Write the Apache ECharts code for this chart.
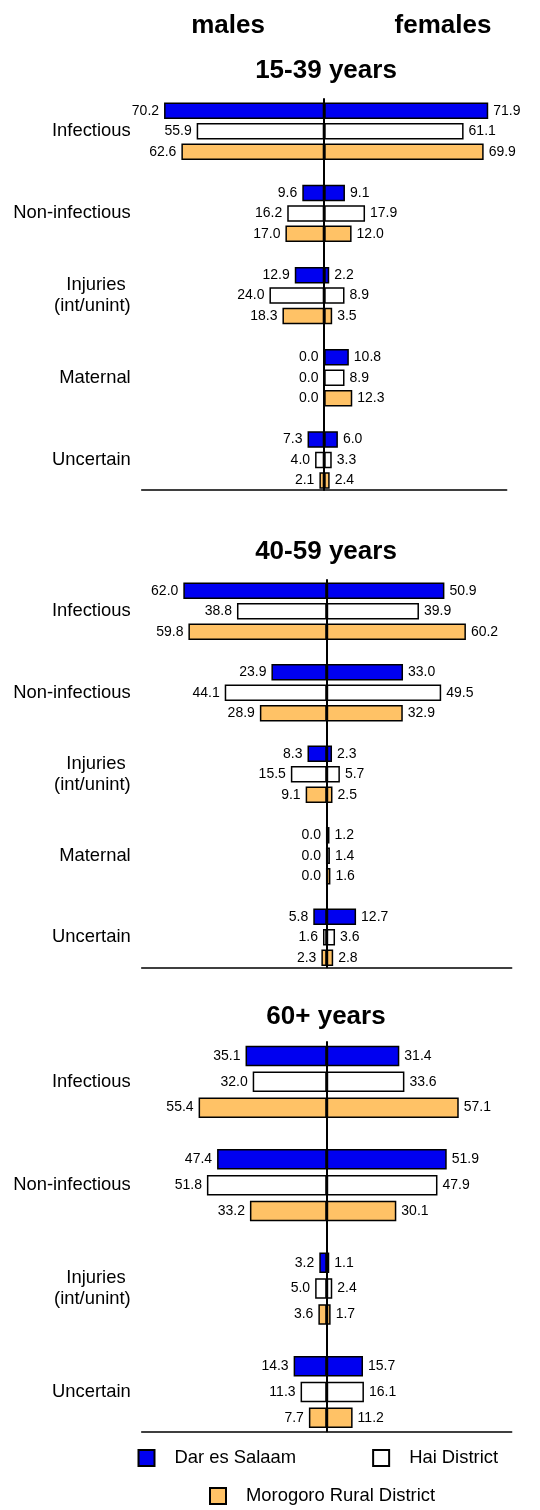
<!DOCTYPE html>
<html>
<head>
<meta charset="utf-8">
<script src="https://cdn.jsdelivr.net/npm/echarts@6/dist/echarts.min.js"></script>
<style>
  html, body { margin: 0; padding: 0; background: #fff; }
  #chart { width: 540px; height: 1510px; }
</style>
</head>
<body>
<div id="chart"></div>
<script>
// ---------- DATA ----------
const districts = ['Dar es Salaam', 'Hai District', 'Morogoro Rural District'];
const categoriesA = ['Infectious', 'Non-infectious', 'Injuries \n(int/unint)', 'Maternal', 'Uncertain'];
const categoriesB = ['Infectious', 'Non-infectious', 'Injuries \n(int/unint)', 'Uncertain'];
const panelTitles = ['15-39 years', '40-59 years', '60+ years'];

// 15-39 years
const m1539_dar  = [70.2, 9.6, 12.9, 0.0, 7.3];
const m1539_hai  = [55.9, 16.2, 24.0, 0.0, 4.0];
const m1539_moro = [62.6, 17.0, 18.3, 0.0, 2.1];
const f1539_dar  = [71.9, 9.1, 2.2, 10.8, 6.0];
const f1539_hai  = [61.1, 17.9, 8.9, 8.9, 3.3];
const f1539_moro = [69.9, 12.0, 3.5, 12.3, 2.4];

// 40-59 years
const m4059_dar  = [62.0, 23.9, 8.3, 0.0, 5.8];
const m4059_hai  = [38.8, 44.1, 15.5, 0.0, 1.6];
const m4059_moro = [59.8, 28.9, 9.1, 0.0, 2.3];
const f4059_dar  = [50.9, 33.0, 2.3, 1.2, 12.7];
const f4059_hai  = [39.9, 49.5, 5.7, 1.4, 3.6];
const f4059_moro = [60.2, 32.9, 2.5, 1.6, 2.8];

// 60+ years
const m60_dar  = [35.1, 47.4, 3.2, 14.3];
const m60_hai  = [32.0, 51.8, 5.0, 11.3];
const m60_moro = [55.4, 33.2, 3.6, 7.7];
const f60_dar  = [31.4, 51.9, 1.1, 15.7];
const f60_hai  = [33.6, 47.9, 2.4, 16.1];
const f60_moro = [57.1, 30.1, 1.7, 11.2];

// ---------- STYLE / LAYOUT ----------
const FONT = 'Liberation Sans, Arial, sans-serif';
const fills = ['#0000F0', '#FFFFFF', '#FFC266'];

const panels = [
  { cats: categoriesA, males: [m1539_dar, m1539_hai, m1539_moro], females: [f1539_dar, f1539_hai, f1539_moro],
    grid: { left: 141.7, right: 33.3, top: 90.1, height: 411 },
    line: { left: 141.7, right: 33.3, top: 99, height: 391 },
    barWidth: 16.5, barGap: '24%' },
  { cats: categoriesA, males: [m4059_dar, m4059_hai, m4059_moro], females: [f4059_dar, f4059_hai, f4059_moro],
    grid: { left: 141.7, right: 28.3, top: 570.5, height: 407.5 },
    line: { left: 141.7, right: 28.3, top: 580, height: 387.3 },
    barWidth: 16.5, barGap: '24%' },
  { cats: categoriesB, males: [m60_dar, m60_hai, m60_moro], females: [f60_dar, f60_hai, f60_moro],
    grid: { left: 141.7, right: 28.3, top: 1030.1, height: 413.6 },
    line: { left: 141.7, right: 28.3, top: 1042, height: 389.3 },
    barWidth: 20.5, barGap: '26%' }
];

const grids = [], xAxes = [], yAxes = [], series = [];

panels.forEach((p, pi) => {
  // bar grid
  const gi = grids.length;
  grids.push(Object.assign({ containLabel: false }, p.grid));
  xAxes.push({
    gridIndex: gi, type: 'value', min: -80, max: 80, show: false
  });
  yAxes.push({
    gridIndex: gi, type: 'category', inverse: true, data: p.cats,
    axisLine: { show: false }, axisTick: { show: false }, splitLine: { show: false },
    axisLabel: { color: '#000', fontSize: 18.4, fontFamily: FONT, margin: 11, lineHeight: 21.5, align: 'right' }
  });
  // overlay grid for centre line and baseline
  const li = grids.length;
  grids.push(Object.assign({ containLabel: false }, p.line));
  xAxes.push({
    gridIndex: li, type: 'value', min: -80, max: 80, z: 10,
    axisLine: { show: true, onZero: false, lineStyle: { color: '#000', width: 1.5 } },
    axisTick: { show: false }, axisLabel: { show: false }, splitLine: { show: false }
  });
  yAxes.push({
    gridIndex: li, type: 'value', min: 0, max: 1, z: 10,
    axisLine: { show: true, onZero: true, lineStyle: { color: '#000', width: 2 } },
    axisTick: { show: false }, axisLabel: { show: false }, splitLine: { show: false }
  });

  districts.forEach((d, di) => {
    series.push({
      type: 'bar', name: d, xAxisIndex: gi, yAxisIndex: gi,
      stack: 'p' + pi + 'd' + di, barWidth: p.barWidth, barGap: p.barGap,
      itemStyle: { color: fills[di], borderColor: '#000', borderWidth: 1.5 },
      emphasis: { disabled: true }, animation: false,
      data: p.males[di].map(v => -v),
      label: { show: true, position: 'left', distance: 5, color: '#000', fontSize: 14, fontFamily: FONT,
        formatter: q => Math.abs(q.value).toFixed(1) }
    });
  });
  districts.forEach((d, di) => {
    series.push({
      type: 'bar', name: d, xAxisIndex: gi, yAxisIndex: gi,
      stack: 'p' + pi + 'd' + di, barWidth: p.barWidth, barGap: p.barGap,
      itemStyle: { color: fills[di], borderColor: '#000', borderWidth: 1.5 },
      emphasis: { disabled: true }, animation: false,
      data: p.females[di],
      label: { show: true, position: 'right', distance: 5, color: '#000', fontSize: 14, fontFamily: FONT,
        formatter: q => Math.abs(q.value).toFixed(1) }
    });
  });
});

const titleStyle = { color: '#000', fontSize: 26, fontWeight: 'bold', fontFamily: FONT };
const option = {
  backgroundColor: '#fff',
  animation: false,
  title: [
    { text: 'males', left: 228, top: 13, textAlign: 'center', textStyle: titleStyle, padding: 0 },
    { text: 'females', left: 443, top: 13, textAlign: 'center', textStyle: titleStyle, padding: 0 },
    { text: panelTitles[0], left: 326, top: 58, textAlign: 'center', textStyle: titleStyle, padding: 0 },
    { text: panelTitles[1], left: 326, top: 539, textAlign: 'center', textStyle: titleStyle, padding: 0 },
    { text: panelTitles[2], left: 326, top: 1004, textAlign: 'center', textStyle: titleStyle, padding: 0 }
  ],
  legend: [
    { data: [districts[0], districts[1]], left: 137.5, top: 1449, padding: 0,
      orient: 'horizontal', itemWidth: 16, itemHeight: 16, itemGap: 76, icon: 'rect',
      selectedMode: false,
      textStyle: { color: '#000', fontSize: 18.4, fontFamily: FONT, padding: [8, 0, 0, 15] } },
    { data: [districts[2]], left: 209, top: 1487, padding: 0,
      itemWidth: 16, itemHeight: 16, icon: 'rect', selectedMode: false,
      textStyle: { color: '#000', fontSize: 18.4, fontFamily: FONT, padding: [8, 0, 0, 15] } }
  ],
  grid: grids,
  xAxis: xAxes,
  yAxis: yAxes,
  series: series
};

const chart = echarts.init(document.getElementById('chart'), null, { renderer: 'canvas' });
chart.setOption(option);
</script>
</body>
</html>
